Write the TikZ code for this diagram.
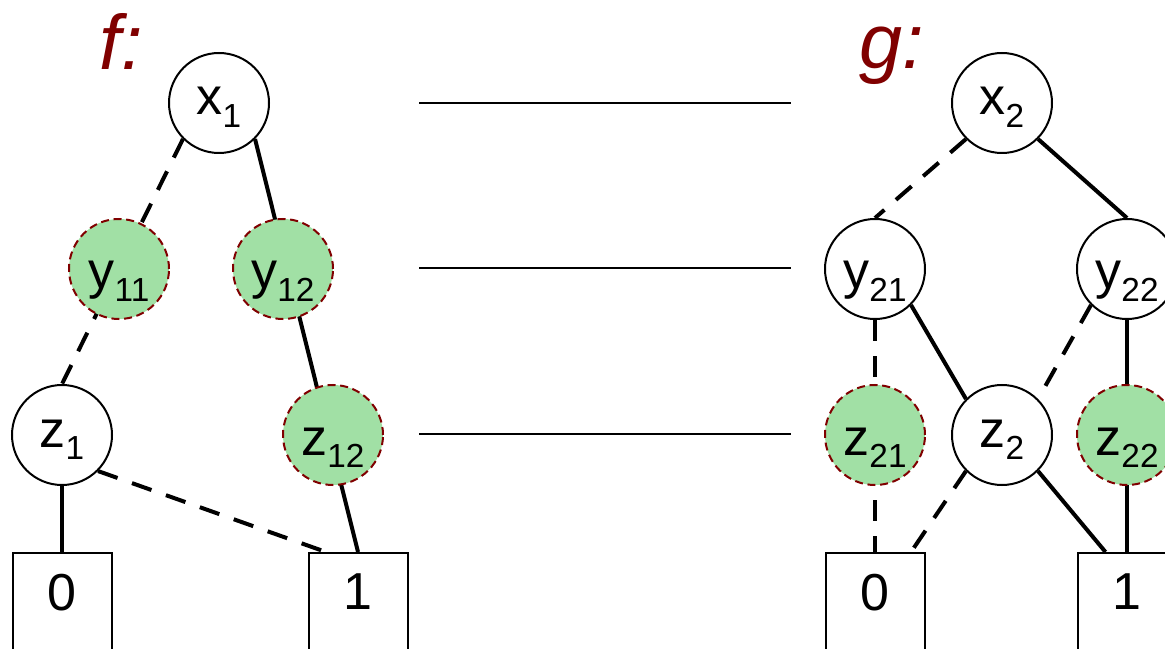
\documentclass[tikz,border=0pt]{standalone}
\usepackage{fontspec}
\setmainfont{Liberation Sans}
\usetikzlibrary{calc,backgrounds}

\definecolor{darkred}{RGB}{128,0,0}
\definecolor{leaf}{RGB}{161,224,165}

% variable name with a dropped subscript
\newcommand{\vsub}[2]{#1\raisebox{-9.5pt}{\fontsize{25pt}{25pt}\selectfont #2}}

\tikzset{
  vnode/.style={circle, draw, line width=1.5pt, fill=white, minimum size=75pt,
                inner sep=0pt, font=\fontsize{39pt}{39pt}\selectfont},
  onesub/.style={text height=27pt, text depth=9pt},
  twosub/.style={text height=33pt, text depth=3pt},
  spare/.style={fill=leaf, draw=darkred, dash pattern=on 6pt off 3.5pt},
  term/.style={rectangle, draw, line width=1.5pt, fill=white, minimum width=74.25pt,
               minimum height=75pt, inner sep=0pt, text depth=16.5pt,
               font=\fontsize{39pt}{39pt}\selectfont},
  hi/.style={line width=3pt},
  lo/.style={line width=3pt, dash pattern=on 15.5pt off 11.5pt},
  level/.style={line width=1.5pt},
  fname/.style={anchor=base west, text=darkred,
                font=\fontsize{58pt}{58pt}\selectfont\itshape}
}

\begin{document}
\begin{tikzpicture}[x=0.75pt, y=-0.75pt]
  \clip (0,0) rectangle (1165,649);

  % ---------- f ----------
  \node[fname] (flab) at (95,70) {f:};
  \node[vnode, onesub] (x1) at (219,103) {\vsub{x}{1}};
  \node[vnode, twosub, spare] (y11) at (119,269) {\vsub{y}{11}};
  \node[vnode, twosub, spare] (y12) at (283,269) {\vsub{y}{12}};
  \node[vnode, onesub] (z1) at (62,435) {\vsub{z}{1}};
  \node[vnode, twosub, spare] (z12) at (333,435) {\vsub{z}{12}};
  \node[term] (f0) at (62,603) {0};
  \node[term] (f1) at (358,603) {1};

  % ---------- g ----------
  \node[fname] (glab) at (855,69) {g:};
  \node[vnode, onesub] (x2) at (1002,103) {\vsub{x}{2}};
  \node[vnode, twosub] (y21) at (875,269) {\vsub{y}{21}};
  \node[vnode, twosub] (y22) at (1127,269) {\vsub{y}{22}};
  \node[vnode, twosub, spare] (z21) at (875,435) {\vsub{z}{21}};
  \node[vnode, onesub] (z2) at (1002,435) {\vsub{z}{2}};
  \node[vnode, twosub, spare] (z22) at (1127,435) {\vsub{z}{22}};
  \node[term] (g0) at (875,603) {0};
  \node[term] (g1) at (1127,603) {1};

  % level separators
  \coordinate (l1a) at (419,103);  \coordinate (l1b) at (791,103);
  \coordinate (l2a) at (419,268);  \coordinate (l2b) at (791,268);
  \coordinate (l3a) at (419,434);  \coordinate (l3b) at (791,434);
  \draw[level] (l1a) -- (l1b);
  \draw[level] (l2a) -- (l2b);
  \draw[level] (l3a) -- (l3b);

  \begin{pgfonlayer}{background}
    % edges of f
    \draw[lo] (x1.south west) -- (z1.north);
    \draw[hi] (x1.south east) -- (f1.north);
    \draw[hi] (z1.south) -- (f0.north);
    \draw[lo] (z1.south east) -- ($(f1.north west)+(18.5,0)$);
    % edges of g
    \draw[lo] (x2.south west) -- (y21.north);
    \draw[hi] (x2.south east) -- (y22.north);
    \draw[lo] (y21.south) -- (g0.north);
    \draw[hi] (y21.south east) -- (z2.north west);
    \draw[lo] (y22.south west) -- (z2.north east);
    \draw[hi] (y22.south) -- (g1.north);
    \draw[lo] (z2.south west) -- ($(g0.north east)+(-14.5,0)$);
    \draw[hi] (z2.south east) -- ($(g1.north west)+(29,0)$);
  \end{pgfonlayer}
\end{tikzpicture}
\end{document}
